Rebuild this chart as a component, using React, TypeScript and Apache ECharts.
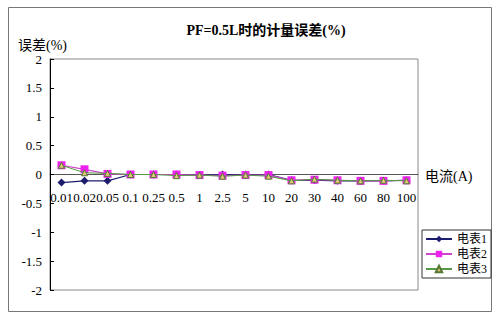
import React, { useEffect, useRef } from "react";
import * as echarts from "echarts";

const categories = ["0.01", "0.02", "0.05", "0.1", "0.25", "0.5", "1", "2.5", "5", "10", "20", "30", "40", "60", "80", "100"];
const meter1 = [-0.14, -0.11, -0.11, 0, 0, 0, -0.01, 0, 0, 0, -0.1, -0.1, -0.11, -0.11, -0.11, -0.1];
const meter2 = [0.16, 0.09, 0.01, 0, 0, 0, -0.01, -0.02, -0.01, -0.01, -0.1, -0.09, -0.1, -0.11, -0.11, -0.1];
const meter3 = [0.16, 0.03, 0.02, 0, 0, -0.02, -0.01, -0.03, -0.01, -0.03, -0.11, -0.08, -0.1, -0.11, -0.1, -0.11];
const seriesNames = ["电表1", "电表2", "电表3"];

const FONT = "'Liberation Serif', 'Noto Sans CJK SC', serif";

export default function App() {
  const ref = useRef<HTMLDivElement>(null);
  useEffect(() => {
    if (!ref.current) return;
    const chart = echarts.init(ref.current, undefined, { renderer: "svg" });
    chart.setOption({
      animation: false,
      backgroundColor: "#ffffff",
      textStyle: { fontFamily: FONT },
      graphic: [
        {
          type: "rect",
          shape: { x: 8.5, y: 7.5, width: 483, height: 304 },
          style: { fill: "none", stroke: "#777", lineWidth: 1 },
          silent: true,
        },
        {
          type: "text",
          x: 266,
          y: 30,
          style: {
            text: "PF=0.5L时的计量误差(%)",
            font: `bold 14px ${FONT}`,
            fill: "#000",
            align: "center",
            verticalAlign: "middle",
          },
        },
        {
          type: "text",
          x: 18,
          y: 45,
          style: {
            text: "误差(%)",
            font: `14px ${FONT}`,
            fill: "#000",
            align: "left",
            verticalAlign: "middle",
          },
        },
        {
          type: "text",
          x: 425,
          y: 176,
          style: {
            text: "电流(A)",
            font: `14px ${FONT}`,
            fill: "#000",
            align: "left",
            verticalAlign: "middle",
          },
        },
      ],
      grid: {
        left: 50,
        top: 59,
        width: 368,
        height: 231,
        show: true,
        borderColor: "#888",
        borderWidth: 1,
        backgroundColor: "transparent",
      },
      legend: {
        orient: "vertical",
        left: 422,
        top: 230,
        data: seriesNames,
        borderColor: "#333",
        borderWidth: 1,
        padding: [3, 4, 3, 3],
        itemGap: 3,
        itemWidth: 26,
        itemHeight: 8,
        textStyle: { fontFamily: FONT, fontSize: 12, color: "#000" },
      },
      xAxis: {
        type: "category",
        data: categories,
        boundaryGap: true,
        position: "bottom",
        offset: -115.5,
        axisLine: { onZero: false, lineStyle: { color: "#555", width: 1 } },
        axisTick: { inside: true, length: 4, lineStyle: { color: "#555" } },
        axisLabel: {
          interval: 0,
          hideOverlap: false,
          margin: 16,
          fontSize: 13,
          color: "#000",
          fontFamily: FONT,
        },
        splitLine: { show: false },
      },
      yAxis: {
        type: "value",
        min: -2,
        max: 2,
        interval: 0.5,
        axisLine: { show: true, lineStyle: { color: "#000", width: 1 } },
        axisTick: { show: true, inside: true, length: 4, lineStyle: { color: "#000" } },
        axisLabel: { fontSize: 13, color: "#000", margin: 8, fontFamily: FONT },
        splitLine: { show: false },
      },
      series: [
        {
          name: seriesNames[0],
          type: "line",
          data: meter1,
          symbol: "diamond",
          symbolSize: 8,
          lineStyle: { color: "#1c1c6e", width: 1.2 },
          itemStyle: { color: "#1c1c6e" },
          z: 2,
        },
        {
          name: seriesNames[1],
          type: "line",
          data: meter2,
          symbol: "rect",
          symbolSize: 8,
          lineStyle: { color: "#cc44cc", width: 1.2 },
          itemStyle: { color: "#ee22ee" },
          z: 3,
        },
        {
          name: seriesNames[2],
          type: "line",
          data: meter3,
          symbol: "triangle",
          symbolSize: 6,
          lineStyle: { color: "#559944", width: 1 },
          itemStyle: { color: "#e0c878", borderColor: "#557733", borderWidth: 1 },
          z: 4,
        },
      ],
    });
    return () => chart.dispose();
  }, []);
  return (
    <div
      ref={ref}
      style={{ position: "fixed", left: 0, top: 0, width: 500, height: 321 }}
    />
  );
}
